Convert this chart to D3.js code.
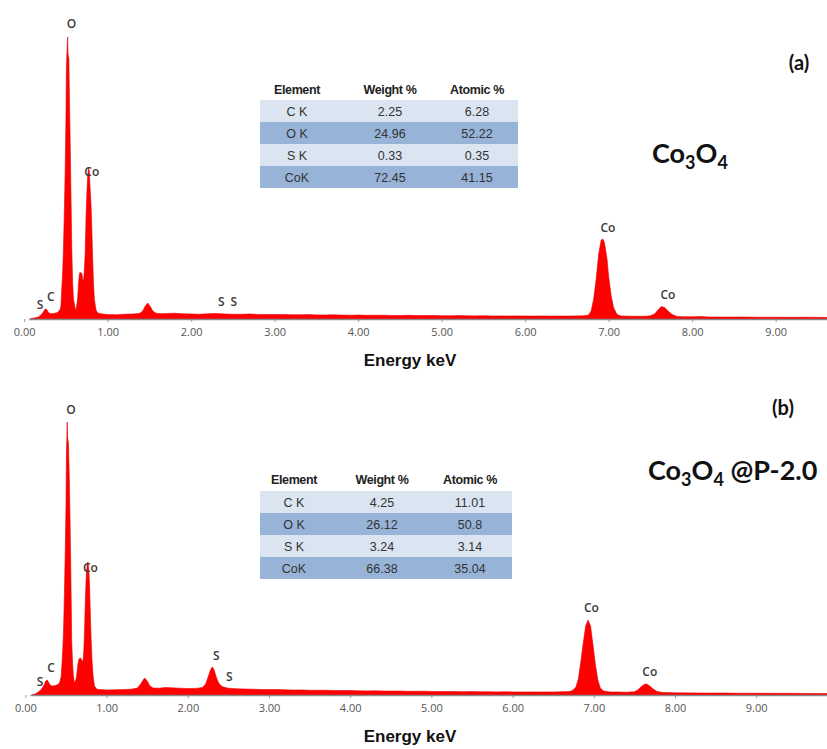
<!DOCTYPE html>
<html lang="en">
  <head>
    <meta charset="UTF-8" />
    <title>EDS spectra Co3O4</title>
    <script src="https://d3js.org/d3.v7.min.js"></script>
    <style>
      body {
        margin: 0;
        background: #fff;
      }
      svg {
        display: block;
      }
      .tick text {
        font-family: "Open Sans", sans-serif;
        font-size: 11px;
        fill: #555;
      }
      .tick line {
        stroke: #999;
      }
      .peak-label {
        font-family: "Open Sans", sans-serif;
        font-size: 12px;
        font-weight: 600;
        fill: #3a3a3a;
        text-anchor: middle;
      }
      .axis-title {
        font-family: "Liberation Sans", Arial, sans-serif;
        font-size: 17px;
        font-weight: bold;
        fill: #111;
        text-anchor: middle;
      }
      .panel-tag,
      .sample {
        font-family: Lato, sans-serif;
        font-weight: bold;
        fill: #111;
      }
      .tbl-head {
        font-family: "Liberation Sans", Arial, sans-serif;
        font-size: 12.5px;
        font-weight: bold;
        fill: #222;
        text-anchor: middle;
        letter-spacing: -0.4px;
      }
      .tbl-cell {
        font-family: "Liberation Sans", Arial, sans-serif;
        font-size: 12.5px;
        fill: #333;
        text-anchor: middle;
      }
    </style>
  </head>
  <body>
    <svg width="827" height="749"></svg>
    <script>
      // tick values on the energy axis (keV)
      const energyTicks = [0, 1, 2, 3, 4, 5, 6, 7, 8, 9];

      // table contents
      const tableHeader = ["Element", "Weight %", "Atomic %"];
      const elementsA = ["C K", "O K", "S K", "CoK"];
      const weightA = ["2.25", "24.96", "0.33", "72.45"];
      const atomicA = ["6.28", "52.22", "0.35", "41.15"];
      const elementsB = ["C K", "O K", "S K", "CoK"];
      const weightB = ["4.25", "26.12", "3.24", "66.38"];
      const atomicB = ["11.01", "50.8", "3.14", "35.04"];

      // spectrum (a) Co3O4 : [energy keV, counts]
      const spectrumA = [
        [0.07, 0], [0.12, 10], [0.17, 20], [0.2, 40], [0.23, 70], [0.25, 100], [0.27, 95],
        [0.29, 65], [0.32, 52], [0.36, 56], [0.4, 65], [0.43, 95], [0.44, 130], [0.45, 300],
        [0.46, 450], [0.47, 700], [0.48, 1050], [0.49, 1450], [0.5, 2000], [0.505, 2500],
        [0.51, 2620], [0.52, 2820], [0.525, 2650], [0.535, 2600], [0.54, 2300], [0.55, 1800],
        [0.56, 1250], [0.57, 700], [0.58, 360], [0.59, 200], [0.61, 110], [0.62, 85],
        [0.64, 200], [0.65, 350], [0.66, 440], [0.67, 470], [0.68, 450], [0.69, 460],
        [0.7, 400], [0.71, 380], [0.72, 480], [0.73, 650], [0.74, 1000], [0.75, 1250],
        [0.76, 1420], [0.77, 1510], [0.78, 1480], [0.79, 1300], [0.8, 1150], [0.81, 900],
        [0.82, 600], [0.83, 360], [0.84, 200], [0.86, 90], [0.88, 60], [0.92, 52],
        [1.0, 45], [1.1, 42], [1.2, 48], [1.3, 50], [1.38, 55], [1.42, 80], [1.45, 130],
        [1.48, 160], [1.51, 125], [1.54, 80], [1.58, 58], [1.65, 52], [1.7, 55], [1.8, 58],
        [1.9, 52], [2.0, 50], [2.1, 48], [2.2, 52], [2.3, 55], [2.4, 50], [2.5, 48],
        [2.6, 47], [2.7, 50], [2.8, 46], [2.9, 45], [3.0, 44], [3.1, 46], [3.2, 43],
        [3.3, 42], [3.4, 44], [3.5, 41], [3.6, 40], [3.7, 42], [3.8, 39], [3.9, 38],
        [4.0, 40], [4.1, 37], [4.2, 38], [4.3, 38], [4.4, 36], [4.5, 35], [4.6, 37],
        [4.7, 34], [4.8, 35], [4.9, 36], [5.0, 33], [5.1, 32], [5.2, 34], [5.3, 32],
        [5.4, 31], [5.5, 33], [5.6, 30], [5.7, 31], [5.8, 30], [5.9, 31], [6.0, 30],
        [6.1, 29], [6.2, 31], [6.3, 29], [6.4, 30], [6.5, 29], [6.6, 31], [6.7, 32],
        [6.76, 40], [6.79, 80], [6.82, 200], [6.85, 400], [6.88, 650], [6.91, 790],
        [6.93, 800], [6.95, 760], [6.98, 600], [7.0, 420], [7.03, 230], [7.06, 110],
        [7.1, 45], [7.15, 30], [7.25, 28], [7.35, 27], [7.45, 28], [7.5, 32], [7.55, 50],
        [7.59, 90], [7.63, 125], [7.67, 115], [7.71, 80], [7.76, 45], [7.82, 26],
        [7.9, 22], [8.0, 22], [8.1, 24], [8.2, 20], [8.4, 19], [8.6, 20], [8.8, 18],
        [9.0, 18], [9.2, 17], [9.4, 18], [9.62, 16]
      ];

      // spectrum (b) Co3O4 @P-2.0 : [energy keV, counts]
      const spectrumB = [
        [0.08, 0], [0.12, 10], [0.16, 30], [0.2, 60], [0.23, 100], [0.25, 140], [0.27, 150],
        [0.29, 120], [0.31, 95], [0.34, 90], [0.37, 95], [0.4, 105], [0.42, 120], [0.44, 180],
        [0.45, 300], [0.46, 450], [0.47, 650], [0.48, 1000], [0.49, 1400], [0.5, 1900],
        [0.505, 2400], [0.51, 2560], [0.515, 2730], [0.52, 2570], [0.53, 2520], [0.54, 2200],
        [0.55, 1750], [0.56, 1200], [0.57, 550], [0.58, 330], [0.59, 200], [0.6, 140],
        [0.61, 120], [0.63, 180], [0.645, 300], [0.66, 360], [0.675, 370], [0.69, 360],
        [0.7, 330], [0.71, 350], [0.72, 450], [0.73, 700], [0.74, 1000], [0.75, 1200],
        [0.76, 1300], [0.77, 1330], [0.78, 1260], [0.79, 1100], [0.8, 800], [0.81, 550],
        [0.82, 350], [0.835, 180], [0.85, 90], [0.88, 58], [0.92, 55], [1.0, 50],
        [1.1, 52], [1.2, 55], [1.3, 58], [1.38, 70], [1.42, 110], [1.45, 150], [1.47, 170],
        [1.5, 140], [1.53, 95], [1.57, 70], [1.65, 68], [1.72, 75], [1.8, 72], [1.9, 68],
        [2.0, 65], [2.1, 66], [2.18, 75], [2.22, 110], [2.25, 180], [2.28, 250],
        [2.3, 280], [2.32, 260], [2.35, 180], [2.38, 120], [2.42, 85], [2.46, 75],
        [2.5, 68], [2.6, 62], [2.7, 60], [2.8, 58], [2.9, 55], [3.0, 54], [3.1, 55],
        [3.2, 52], [3.3, 50], [3.4, 51], [3.5, 48], [3.6, 47], [3.7, 48], [3.8, 45],
        [3.9, 44], [4.0, 45], [4.1, 42], [4.2, 41], [4.3, 42], [4.4, 40], [4.5, 39],
        [4.6, 40], [4.7, 38], [4.8, 37], [4.9, 38], [5.0, 36], [5.1, 35], [5.2, 36],
        [5.3, 34], [5.4, 33], [5.5, 34], [5.6, 32], [5.7, 33], [5.8, 31], [5.9, 32],
        [6.0, 31], [6.1, 30], [6.2, 31], [6.3, 30], [6.4, 31], [6.5, 30], [6.6, 32],
        [6.7, 35], [6.74, 45], [6.78, 80], [6.81, 160], [6.84, 330], [6.87, 520],
        [6.9, 690], [6.93, 750], [6.96, 690], [6.99, 500], [7.02, 300], [7.05, 150],
        [7.08, 70], [7.12, 40], [7.2, 30], [7.3, 30], [7.4, 28], [7.5, 32], [7.54, 50],
        [7.58, 80], [7.62, 105], [7.65, 110], [7.69, 90], [7.73, 60], [7.78, 35],
        [7.85, 25], [8.0, 22], [8.2, 21], [8.4, 19], [8.6, 20], [8.8, 18], [9.0, 18],
        [9.2, 17], [9.4, 17], [9.6, 16], [9.9, 15]
      ];

      // peak labels: text, energy, count level
      const labelTextA = ["S", "C", "O", "Co", "S", "S", "Co", "Co"];
      const labelEnergyA = [0.19, 0.32, 0.566, 0.81, 2.36, 2.51, 6.99, 7.71];
      const labelCountA = [140, 220, 2950, 1470, 170, 170, 910, 240];
      const labelTextB = ["S", "C", "O", "Co", "S", "S", "Co", "Co"];
      const labelEnergyB = [0.18, 0.315, 0.56, 0.8, 2.35, 2.51, 6.97, 7.69];
      const labelCountB = [130, 270, 2850, 1270, 390, 180, 870, 230];

      const svg = d3.select("svg");
      svg.append("rect").attr("width", 827).attr("height", 749).attr("fill", "#fff");

      const panels = [
        {
          spectrum: spectrumA, x0: 24.2, k: 83.5, base: 319,
          labels: labelTextA.map((t, i) => ({ t, e: labelEnergyA[i], c: labelCountA[i] })),
          titleY: 366
        },
        {
          spectrum: spectrumB, x0: 25.4, k: 81.2, base: 695,
          labels: labelTextB.map((t, i) => ({ t, e: labelEnergyB[i], c: labelCountB[i] })),
          titleY: 742
        }
      ];

      panels.forEach((p) => {
        const x = d3.scaleLinear().domain([0, 9]).range([p.x0, p.x0 + 9 * p.k]);
        const y = d3.scaleLinear().domain([0, 2890]).range([p.base, p.base - 289]);

        const area = d3
          .area()
          .x((d) => x(d[0]))
          .y0(y(0))
          .y1((d) => y(d[1]));

        svg
          .append("path")
          .datum(p.spectrum)
          .attr("d", area)
          .attr("fill", "#ff0000")
          .attr("stroke", "#e60000")
          .attr("stroke-width", 0.6);

        // axis
        const axis = svg
          .append("g")
          .attr("transform", `translate(0,${p.base})`)
          .call(
            d3
              .axisBottom(x)
              .tickValues(energyTicks)
              .tickFormat(d3.format(".2f"))
              .tickSize(3)
              .tickPadding(6)
          );
        axis.select(".domain").remove();
        svg
          .append("line")
          .attr("x1", x(0.06))
          .attr("x2", 827)
          .attr("y1", p.base + 0.5)
          .attr("y2", p.base + 0.5)
          .attr("stroke", "#8a8a8a")
          .attr("stroke-width", 1.6);

        // peak labels
        svg
          .selectAll(null)
          .data(p.labels)
          .enter()
          .append("text")
          .attr("class", "peak-label")
          .attr("x", (d) => x(d.e))
          .attr("y", (d) => y(d.c))
          .attr("dy", "0.35em")
          .text((d) => d.t);

        svg
          .append("text")
          .attr("class", "axis-title")
          .attr("x", 410)
          .attr("y", p.titleY)
          .text("Energy keV");
      });

      // composition tables
      function drawTable(left, right, headY, rowTop, cols, elements, weight, atomic) {
        const rowH = 22;
        const g = svg.append("g");
        g.selectAll("text.tbl-head")
          .data(tableHeader)
          .enter()
          .append("text")
          .attr("class", "tbl-head")
          .attr("x", (d, i) => cols[i])
          .attr("y", headY)
          .attr("dy", "0.35em")
          .text((d) => d);
        elements.forEach((el, i) => {
          g.append("rect")
            .attr("x", left)
            .attr("y", rowTop + i * rowH)
            .attr("width", right - left)
            .attr("height", rowH)
            .attr("fill", i % 2 === 0 ? "#dbe5f1" : "#97b4d8");
          [el, weight[i], atomic[i]].forEach((v, j) => {
            g.append("text")
              .attr("class", "tbl-cell")
              .attr("x", cols[j])
              .attr("y", rowTop + i * rowH + rowH / 2)
              .attr("dy", "0.36em")
              .text(v);
          });
        });
      }
      drawTable(260, 518, 90, 100, [297, 390, 477], elementsA, weightA, atomicA);
      drawTable(260, 512, 480, 491, [294, 382, 470], elementsB, weightB, atomicB);

      // panel tags and sample names
      svg.append("text").attr("class", "panel-tag").attr("x", 799).attr("y", 70)
        .attr("text-anchor", "middle").style("font-size", "20px").text("(a)");
      svg.append("text").attr("class", "panel-tag").attr("x", 783).attr("y", 415)
        .attr("text-anchor", "middle").style("font-size", "20px").text("(b)");

      function sampleName(xp, yp, suffix) {
        const t = svg.append("text").attr("class", "sample").attr("x", xp).attr("y", yp)
          .style("font-size", "27px");
        t.append("tspan").text("Co");
        t.append("tspan").attr("dy", 6).style("font-size", "18px").text("3");
        t.append("tspan").attr("dy", -6).text("O");
        t.append("tspan").attr("dy", 6).style("font-size", "18px").text("4");
        if (suffix) t.append("tspan").attr("dy", -6).text(" " + suffix);
      }
      sampleName(652, 163, null);
      sampleName(648, 480, "@P-2.0");
    </script>
  </body>
</html>
